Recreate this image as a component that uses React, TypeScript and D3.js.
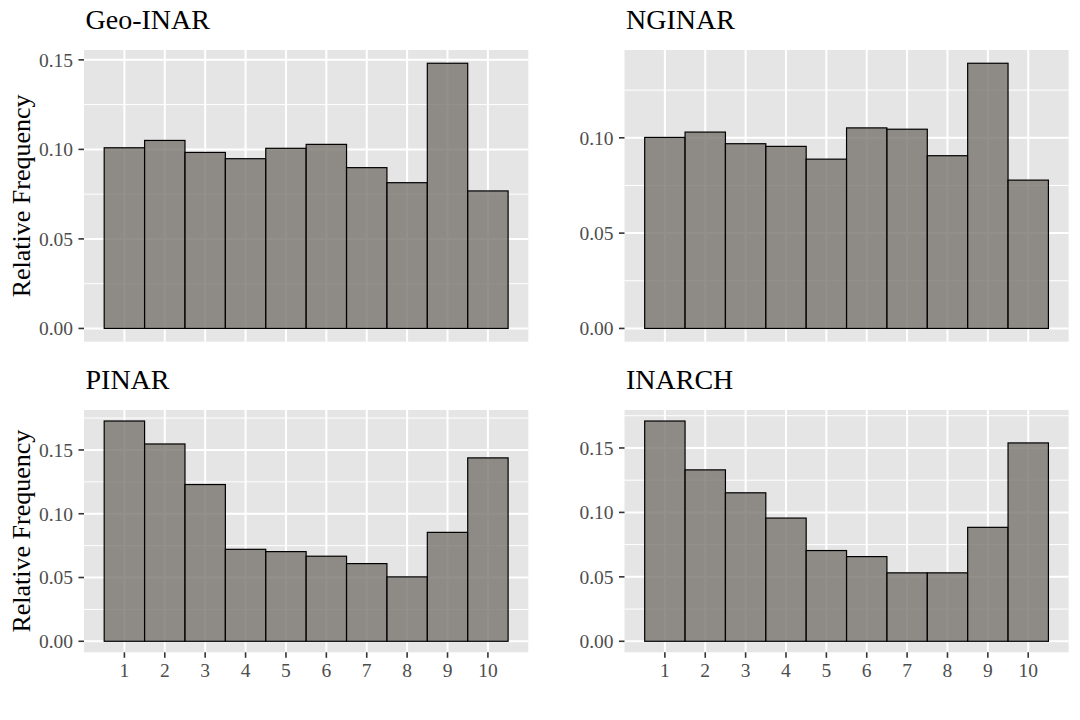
import React from "react";
import * as d3 from "d3";

const categories = [1, 2, 3, 4, 5, 6, 7, 8, 9, 10];
const geoInar = [0.1009, 0.105, 0.0983, 0.0948, 0.1006, 0.1028, 0.0898, 0.0814, 0.1481, 0.0768];
const nginar = [0.1002, 0.103, 0.0969, 0.0955, 0.0888, 0.1052, 0.1045, 0.0906, 0.1391, 0.0778];
const pinar = [0.1727, 0.1547, 0.1229, 0.0721, 0.0703, 0.0667, 0.0609, 0.0505, 0.0854, 0.1438];
const inarch = [0.1709, 0.133, 0.1152, 0.0956, 0.0704, 0.0657, 0.0531, 0.0531, 0.0884, 0.1539];
const titles = ["Geo-INAR", "NGINAR", "PINAR", "INARCH"];
const yMajor = [0, 0.05, 0.1, 0.15];
const yMinor = [0.025, 0.075, 0.125, 0.175];
const yLabel = "Relative Frequency";

const FONT = "'Liberation Serif', 'Times New Roman', serif";
const BG = "#E5E5E5";

type PanelProps = {
  title: string;
  values: number[];
  x0: number;
  x1: number;
  y0: number;
  y1: number;
  showX: boolean;
  showYTitle: boolean;
};

function Panel({ title, values, x0, x1, y0, y1, showX, showYTitle }: PanelProps) {
  const maxV = d3.max(values) as number;
  const x = d3.scaleLinear().domain([0, categories.length + 1]).range([x0, x1]);
  const y = d3
    .scaleLinear()
    .domain([-0.05 * maxV, maxV * 1.05])
    .range([y1, y0]);
  const [dLo, dHi] = y.domain();
  const majors = yMajor.filter((v) => v >= dLo && v <= dHi);
  const minors = yMinor.filter((v) => v >= dLo && v <= dHi);
  const fmt = d3.format(".2f");
  return (
    <g>
      <rect x={x0} y={y0} width={x1 - x0} height={y1 - y0} fill={BG} />
      {minors.map((v) => (
        <line key={"mn" + v} x1={x0} x2={x1} y1={y(v)} y2={y(v)} stroke="#fff" strokeWidth={1} />
      ))}
      {majors.map((v) => (
        <line key={"mj" + v} x1={x0} x2={x1} y1={y(v)} y2={y(v)} stroke="#fff" strokeWidth={2} />
      ))}
      {categories.map((c) => (
        <line key={"vx" + c} x1={x(c)} x2={x(c)} y1={y0} y2={y1} stroke="#fff" strokeWidth={2} />
      ))}
      {categories.map((c, i) => (
        <rect
          key={"b" + c}
          x={x(c - 0.5)}
          y={y(values[i])}
          width={x(c + 0.5) - x(c - 0.5)}
          height={y(0) - y(values[i])}
          fill="rgb(120,115,110)"
          fillOpacity={0.8}
          stroke="#000"
          strokeWidth={1.2}
        />
      ))}
      {majors.map((v) => (
        <g key={"yt" + v}>
          <line x1={x0 - 5.5} x2={x0} y1={y(v)} y2={y(v)} stroke="#333" strokeWidth={1.6} />
          <text
            x={x0 - 11}
            y={y(v)}
            dy="0.35em"
            textAnchor="end"
            fontFamily={FONT}
            fontSize={19.5}
            fill="#4D4D4D"
          >
            {fmt(v)}
          </text>
        </g>
      ))}
      {showX &&
        categories.map((c) => (
          <g key={"xt" + c}>
            <line x1={x(c)} x2={x(c)} y1={y1} y2={y1 + 5.5} stroke="#333" strokeWidth={1.6} />
            <text
              x={x(c)}
              y={y1 + 24.5}
              textAnchor="middle"
              fontFamily={FONT}
              fontSize={19.5}
              fill="#4D4D4D"
            >
              {c}
            </text>
          </g>
        ))}
      <text x={x0 + 1.5} y={y0 - 21} fontFamily={FONT} fontSize={28} fill="#000">
        {title}
      </text>
      {showYTitle && (
        <text
          transform={`translate(${29.5},${(y0 + y1) / 2}) rotate(-90)`}
          textAnchor="middle"
          fontFamily={FONT}
          fontSize={26}
          fill="#000"
        >
          {yLabel}
        </text>
      )}
    </g>
  );
}

export default function App() {
  const series = [geoInar, nginar, pinar, inarch];
  const cols = [
    [84, 528.3],
    [624.5, 1068.6],
  ];
  const rows = [
    [50, 341.7],
    [410, 652.3],
  ];
  return (
    <svg
      width={1080}
      height={720}
      style={{ position: "absolute", left: 0, top: 0, background: "#fff" }}
    >
      <rect x={0} y={0} width={1080} height={720} fill="#fff" />
      {series.map((vals, i) => {
        const r = Math.floor(i / 2);
        const c = i % 2;
        return (
          <Panel
            key={titles[i]}
            title={titles[i]}
            values={vals}
            x0={cols[c][0]}
            x1={cols[c][1]}
            y0={rows[r][0]}
            y1={rows[r][1]}
            showX={r === 1}
            showYTitle={c === 0}
          />
        );
      })}
    </svg>
  );
}
